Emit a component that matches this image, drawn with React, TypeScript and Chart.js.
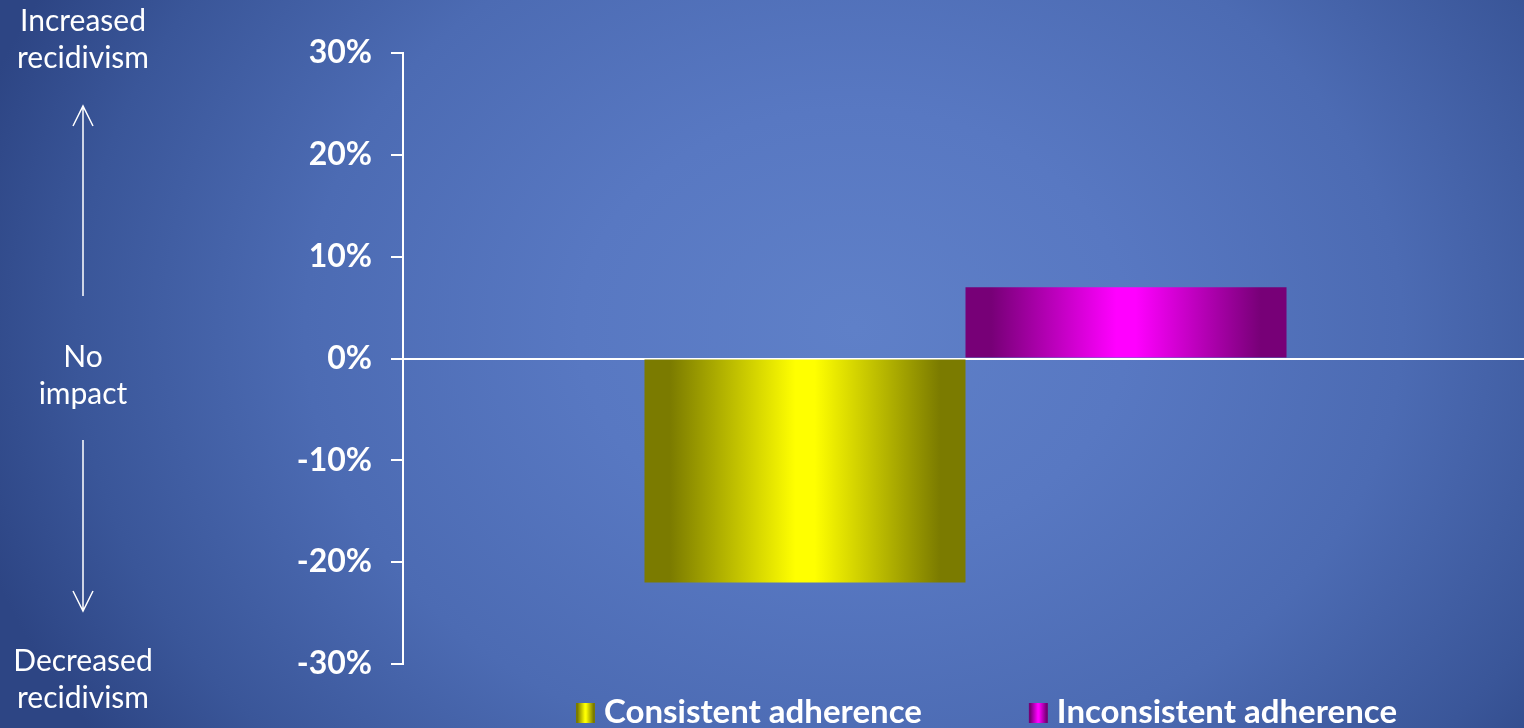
import React, { useEffect, useRef } from "react";
import { Chart, registerables } from "chart.js";

Chart.register(...registerables);

const categories = [""];
const seriesNames = ["Consistent adherence", "Inconsistent adherence"];
const consistentValues = [-22];
const inconsistentValues = [7];
const yTicks = [-30, -20, -10, 0, 10, 20, 30];
const sideLabelsTop = ["Increased", "recidivism"];
const sideLabelsMid = ["No", "impact"];
const sideLabelsBottom = ["Decreased", "recidivism"];

const CAT_PCT = 0.5707;
const BAR_PCT = 1;
const gradStops = [
  ["#7b7b00", "#ffff00"],
  ["#770077", "#ff00ff"],
];

function makeGrad(ctx: CanvasRenderingContext2D, left: number, width: number, idx: number) {
  const [edge, mid] = gradStops[idx];
  const g = ctx.createLinearGradient(left, 0, left + width, 0);
  g.addColorStop(0, edge);
  g.addColorStop(0.08, edge);
  g.addColorStop(0.47, mid);
  g.addColorStop(0.53, mid);
  g.addColorStop(0.92, edge);
  g.addColorStop(1, edge);
  return g;
}

function barFill(idx: number) {
  return (c: any) => {
    const chart = c.chart;
    const area = chart.chartArea;
    if (!area || !chart.scales.x) return gradStops[idx][1];
    const catW = area.right - area.left;
    const center = chart.scales.x.getPixelForValue(0);
    const total = catW * CAT_PCT * BAR_PCT;
    const barW = total / 2;
    const left = center - total / 2 + idx * barW;
    return makeGrad(chart.ctx, left, barW, idx);
  };
}

const annotationPlugin = {
  id: "annotations",
  afterDraw(chart: any) {
    const ctx: CanvasRenderingContext2D = chart.ctx;
    ctx.save();
    ctx.fillStyle = "#ffffff";
    ctx.strokeStyle = "#ffffff";
    ctx.font = "30px Lato";
    ctx.textAlign = "center";
    ctx.textBaseline = "alphabetic";
    const cx = 83;
    ctx.fillText(sideLabelsTop[0], cx, 31);
    ctx.fillText(sideLabelsTop[1], cx, 68);
    ctx.fillText(sideLabelsMid[0], cx, 367);
    ctx.fillText(sideLabelsMid[1], cx, 404);
    ctx.fillText(sideLabelsBottom[0], cx, 671);
    ctx.fillText(sideLabelsBottom[1], cx, 708);

    ctx.lineWidth = 1.5;
    // up arrow
    ctx.beginPath();
    ctx.moveTo(cx, 296);
    ctx.lineTo(cx, 106);
    ctx.moveTo(cx - 10, 126);
    ctx.lineTo(cx, 106);
    ctx.lineTo(cx + 10, 126);
    ctx.stroke();
    // down arrow
    ctx.beginPath();
    ctx.moveTo(cx, 440);
    ctx.lineTo(cx, 611);
    ctx.moveTo(cx - 10, 591);
    ctx.lineTo(cx, 611);
    ctx.lineTo(cx + 10, 591);
    ctx.stroke();

    // legend
    ctx.font = "bold 33px Lato";
    ctx.textAlign = "left";
    const boxW = 19;
    const boxH = 20;
    const gapText = 9;
    const gapItems = 107;
    const widths = seriesNames.map((n) => ctx.measureText(n).width);
    const total = widths.reduce((a, w) => a + boxW + gapText + w, 0) + gapItems;
    const area = chart.chartArea;
    let x = (area.left + area.right) / 2 + 21 - total / 2;
    const baseY = 723;
    seriesNames.forEach((name, i) => {
      ctx.fillStyle = makeGrad(ctx, x, boxW, i);
      ctx.fillRect(x, baseY - boxH, boxW, boxH);
      ctx.fillStyle = "#ffffff";
      ctx.fillText(name, x + boxW + gapText, baseY);
      x += boxW + gapText + widths[i] + gapItems;
    });
    ctx.restore();
  },
};

export default function App() {
  const ref = useRef<HTMLCanvasElement>(null);
  useEffect(() => {
    if (!ref.current) return;
    const chart = new Chart(ref.current, {
      type: "bar",
      data: {
        labels: categories,
        datasets: [
          {
            label: seriesNames[0],
            data: consistentValues,
            backgroundColor: barFill(0),
            borderWidth: 0,
            categoryPercentage: CAT_PCT,
            barPercentage: BAR_PCT,
          },
          {
            label: seriesNames[1],
            data: inconsistentValues,
            backgroundColor: barFill(1),
            borderWidth: 0,
            categoryPercentage: CAT_PCT,
            barPercentage: BAR_PCT,
          },
        ],
      },
      options: {
        responsive: false,
        animation: false,
        devicePixelRatio: 1,
        layout: { padding: { top: 53, bottom: 64, left: 0, right: 0 } },
        plugins: {
          legend: { display: false },
          tooltip: { enabled: false },
        },
        scales: {
          x: {
            display: false,
            grid: { display: false },
          },
          y: {
            min: -30,
            max: 30,
            afterFit: (scale: any) => {
              scale.width = 403;
            },
            afterBuildTicks: (scale: any) => {
              scale.ticks = yTicks.map((v) => ({ value: v }));
            },
            ticks: {
              color: "#ffffff",
              padding: 19,
              font: { family: "Lato", weight: "bold", size: 32 },
              callback: (v: any) => `${v}%`,
            },
            grid: {
              color: (c: any) => (c.tick && c.tick.value === 0 ? "#ffffff" : "rgba(0,0,0,0)"),
              lineWidth: 2,
              tickLength: 12,
              tickColor: "#ffffff",
              tickWidth: 2,
              drawTicks: true,
            },
            border: { color: "#ffffff", width: 2 },
          },
        },
      },
      plugins: [annotationPlugin],
    });
    return () => chart.destroy();
  }, []);

  return (
    <div
      style={{
        position: "fixed",
        left: 0,
        top: 0,
        width: 1524,
        height: 728,
        overflow: "hidden",
        background:
          "radial-gradient(ellipse 60% 100% at 56% 45%, #5f80c8 0%, #5878c2 30%, #4c6bb3 60%, #3a5699 85%, #2d4584 100%)",
      }}
    >
      <canvas ref={ref} width={1528} height={728} style={{ display: "block" }} />
    </div>
  );
}
